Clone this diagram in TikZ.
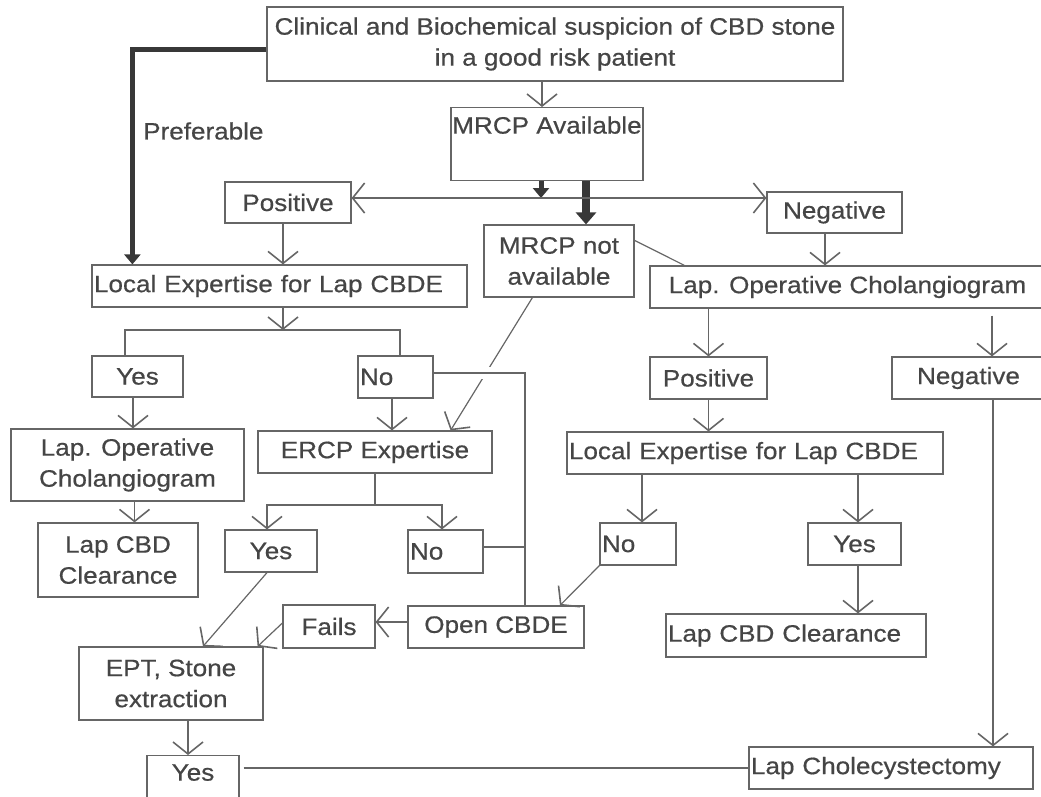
\documentclass[tikz,border=0pt]{standalone}
\usepackage{fontspec}
\setmainfont{Liberation Sans}[FakeStretch=1.1, FakeBold=0.6]
\usepackage{xcolor}
\usetikzlibrary{arrows.meta}
\definecolor{linegray}{HTML}{666666}
\definecolor{inkgray}{HTML}{454545}
\definecolor{heavygray}{HTML}{383838}
\tikzset{
  box/.style={draw=linegray, line width=1.2pt, inner sep=0pt, align=center, minimum height=42pt},
  lbox/.style={box, align=left, inner xsep=2pt},
  link/.style={draw=linegray, line width=1.2pt},
  arr/.style={link, ->},
  heavy/.style={draw=heavygray, line width=5pt, -{Triangle[length=10pt,width=16pt]}},
}
\begin{document}
\begin{tikzpicture}[x=1pt, y=-1pt, >={Straight Barb[length=12pt,width=30pt,line width=1.6pt]},
  every node/.style={font=\fontsize{23.7}{31}\selectfont, text=inkgray}]
\useasboundingbox (0,0) rectangle (1041,796);
% top
\node[box, minimum width=576pt, minimum height=74pt] (clin) at (555,44) {Clinical and Biochemical suspicion of CBD stone\\in a good risk patient};
\node[box, anchor=north, minimum width=192pt, text height=26pt, text depth=47pt] (mrcpa) at (547,107) {MRCP Available};
\node[anchor=west, inner sep=0pt] (pref) at (143,131) {Preferable};
\node[box, minimum width=126pt, minimum height=41pt] (pos1) at (288,202.5) {Positive};
\node[box, minimum width=135pt, minimum height=41pt] (neg1) at (834.5,212.5) {Negative};
\node[box, minimum width=150pt, minimum height=72pt] (mrcpna) at (559,261) {MRCP not\\available};
% left side
\node[lbox, text width=371pt] (loc1) at (279.5,286) {Local Expertise for Lap CBDE};
\node[box, minimum width=91pt, minimum height=41pt] (yes1) at (137.5,376.5) {Yes};
\node[lbox, text width=71pt] (no1) at (395.5,377) {No};
\node[box, minimum width=233pt, minimum height=72pt] (lopc1) at (127.5,465) {Lap. Operative\\Cholangiogram};
\node[box, minimum width=234pt] (ercp) at (375,452) {ERCP Expertise};
\node[box, minimum width=160pt, minimum height=74pt] (lcbd1) at (118,560) {Lap CBD\\Clearance};
\node[box, minimum width=92pt] (yes2) at (271,551) {Yes};
\node[lbox, text width=71pt, minimum height=43pt] (no2) at (445.5,551.5) {No};
\node[box, minimum width=92pt, minimum height=43pt] (fails) at (329,626.5) {Fails};
\node[box, minimum width=176pt] (ocbde) at (496,627) {Open CBDE};
\node[box, minimum width=184pt, minimum height=73pt] (ept) at (171,683.5) {EPT, Stone\\extraction};
\node[box, anchor=north, minimum width=92pt, text height=25pt, text depth=17pt] (yes4) at (193,755) {Yes};
% right side
\node[box, minimum width=395pt] (lopc2) at (847.5,287) {Lap. Operative Cholangiogram};
\node[box, minimum width=117pt] (pos2) at (708.5,378) {Positive};
\node[box, minimum width=153pt] (neg2) at (968.5,378) {Negative};
\node[lbox, text width=372pt] (loc2) at (755,453) {Local Expertise for Lap CBDE};
\node[lbox, text width=72pt] (no3) at (638,544) {No};
\node[box, minimum width=93pt] (yes3) at (854.5,544) {Yes};
\node[lbox, text width=256pt, minimum height=43pt] (lcbd2) at (796,635.5) {Lap CBD Clearance};
\node[lbox, text width=280pt] (lapchole) at (891,768) {Lap Cholecystectomy};

\coordinate (split) at (541,198);
\coordinate (split1) at (283,330);
\coordinate (split2) at (375,505);
\coordinate (rail) at ([xshift=29pt]ocbde.north);

% MRCP part
\draw[arr] ([xshift=-5pt]mrcpa.north |- clin.south) -- ([xshift=-5pt]mrcpa.north);
\draw[heavy] ([yshift=-5pt]clin.west) -| ([xshift=41pt]loc1.north west);
\draw[heavy] (mrcpa.south -| split) -- (split);
\draw[heavy, line width=8pt, -{Triangle[length=12pt,width=20pt]}] ([xshift=27pt]mrcpna.north |- mrcpa.south) -- ([xshift=27pt]mrcpna.north);
\draw[link, <->] (pos1.east |- split) -- (neg1.west |- split);
\draw[arr] ([xshift=-5pt]pos1.south) -- ([xshift=-5pt]pos1.south |- loc1.north);
\draw[link] ([yshift=-16pt]mrcpna.north east) -- ([xshift=35pt]lopc2.north west);
\draw[arr] ([xshift=49pt]mrcpna.south west) -- ([xshift=-42pt]ercp.north east);

% left branch
\draw[arr] (loc1.south -| split1) -- (split1);
\draw[link] ([xshift=-12.5pt]yes1.north) |- (split1) -| ([xshift=4.5pt]no1.north);
\draw[arr] ([xshift=-4.5pt]yes1.south) -- ([xshift=-4.5pt]yes1.south |- lopc1.north);
\draw[arr] ([xshift=7pt]lopc1.south) -- ([xshift=7pt]lopc1.south |- lcbd1.north);
\draw[arr] ([xshift=-3.5pt]no1.south) -- ([xshift=-3.5pt]no1.south |- ercp.north);
\draw[link, preaction={draw=white, line width=12pt, shorten <=3pt, shorten >=10pt}] ([yshift=4pt]no1.east) -| (rail);
\draw[link] (ercp.south -| split2) -- (split2);
\draw[arr] (split2) -| ([xshift=-4pt]yes2.north);
\draw[arr] (split2) -| ([xshift=-3.5pt]no2.north);
\draw[link] ([yshift=4.5pt]no2.east) -- ([yshift=4.5pt]no2.east -| rail);
\draw[arr] ([yshift=5pt]ocbde.west) -- ([yshift=5pt]ocbde.west -| fails.east);
\draw[arr] ([yshift=3.5pt]fails.west) -- ([xshift=-6pt]ept.north east);
\draw[arr] ([xshift=-4pt]yes2.south) -- ([xshift=32pt]ept.north);
\draw[arr] ([xshift=-5pt]yes4.north |- ept.south) -- ([xshift=-5pt]yes4.north);
\draw[link, shorten <=4pt] (lapchole.west -| yes4.east) -- (lapchole.west);

% right branch
\draw[arr] ([xshift=-9.5pt]neg1.south) -- ([xshift=-9.5pt]neg1.south |- lopc2.north);
\draw[arr] (pos2 |- lopc2.south) -- (pos2.north);
\draw[arr, shorten <=7pt] ([xshift=23.5pt]neg2.north |- lopc2.south) -- ([xshift=23.5pt]neg2.north);
\draw[arr] (pos2.south) -- (pos2.south |- loc2.north);
\draw[arr] ([xshift=4pt]no3.north |- loc2.south) -- ([xshift=4pt]no3.north);
\draw[arr] ([xshift=3.5pt]yes3.north |- loc2.south) -- ([xshift=3.5pt]yes3.north);
\draw[arr] ([xshift=3.5pt]yes3.south) -- ([xshift=3.5pt]yes3.south |- lcbd2.north);
\draw[arr] (no3.south west) -- ([xshift=64pt]ocbde.north);
\draw[arr] ([xshift=24.5pt]neg2.south) -- ([xshift=24.5pt]neg2.south |- lapchole.north);
\end{tikzpicture}
\end{document}
